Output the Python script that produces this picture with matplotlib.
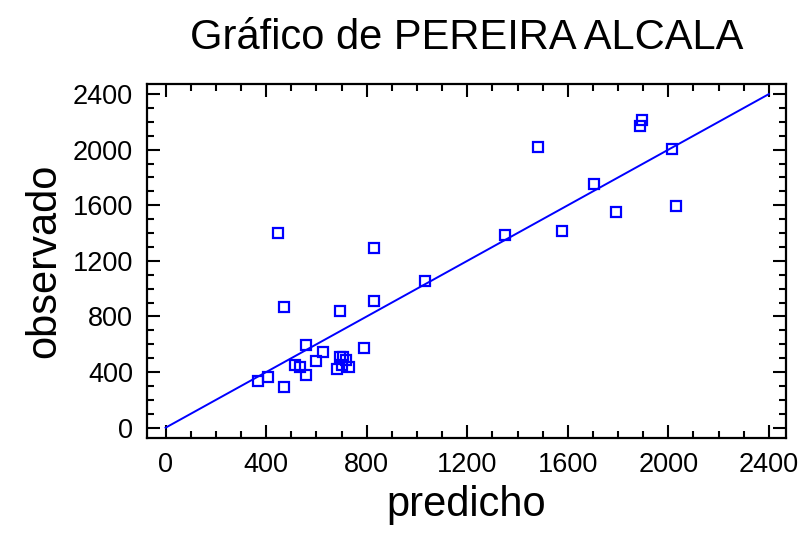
import numpy as np
import matplotlib.pyplot as plt
from matplotlib.ticker import MultipleLocator

plt.rcParams['font.family'] = ['Liberation Sans', 'DejaVu Sans']

# Predicted vs observed values
predicho = [447, 471, 829, 829, 694, 1031, 1350, 1481, 1577, 1704,
            1791, 1894, 1886, 2013, 2029,
            367, 406, 470, 557, 514, 534, 557, 600, 627, 680,
            693, 705, 716, 702, 728, 789]
observado = [1400, 868, 1290, 912, 842, 1055, 1388, 2022, 1416, 1750,
             1549, 2214, 2167, 2008, 1592,
             338, 367, 293, 596, 452, 440, 380, 482, 541, 424,
             510, 505, 484, 450, 438, 576]

# Reference diagonal (observado = predicho)
diag = [0, 2400]

titulo = 'Gráfico de PEREIRA ALCALA'

fig = plt.figure(figsize=(8.02, 5.36), dpi=100)
ax = fig.add_axes([0.1833, 0.1834, 0.7967, 0.66])

ax.plot(diag, diag, color='#0000ff', lw=1.4, zorder=2)
ax.plot(predicho, observado, linestyle='none', marker='s', markersize=6.5,
        markerfacecolor='none', markeredgecolor='#0000ff', markeredgewidth=1.6,
        zorder=3)

ax.set_xlim(-74, 2468)
ax.set_ylim(-72, 2473)

for a in (ax.xaxis, ax.yaxis):
    a.set_major_locator(MultipleLocator(400))
    a.set_minor_locator(MultipleLocator(100))

ax.tick_params(which='both', direction='in', top=True, right=True, width=1.5,
               labelsize=19.5)
ax.tick_params(which='major', length=9.5)
ax.tick_params(which='minor', length=5)
ax.tick_params(axis='x', which='major', pad=10)
ax.tick_params(axis='y', which='major', pad=10)

for s in ax.spines.values():
    s.set_linewidth(1.6)

ax.set_xlabel('predicho', fontsize=30, labelpad=5)
ax.set_ylabel('observado', fontsize=30, labelpad=6)
ax.set_title(titulo, fontsize=30, pad=25)

fig.savefig('out.png', dpi=100)
